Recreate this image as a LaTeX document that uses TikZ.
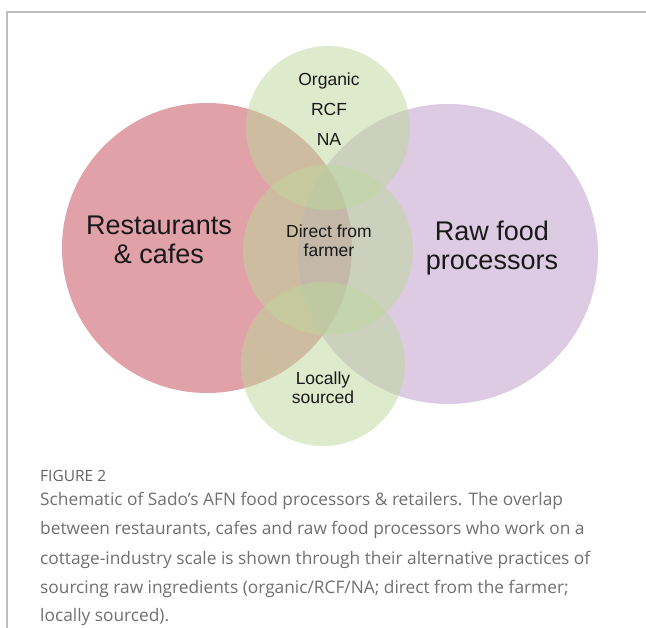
\documentclass[tikz,border=0pt]{standalone}
\usepackage{fontspec}
\setmainfont{Liberation Sans}
\newfontfamily\capfont{Open Sans}
\definecolor{redc}{RGB}{225,161,169}
\definecolor{purc}{RGB}{187,153,201}
\definecolor{grnc}{RGB}{189,215,155}
\definecolor{framec}{RGB}{190,190,190}
\definecolor{labelc}{RGB}{25,25,25}
\definecolor{capc}{RGB}{112,112,112}
\definecolor{figc}{RGB}{100,100,100}
\begin{document}
\begin{tikzpicture}[x=1pt,y=-1pt,
  venn/.style={circle, inner sep=0pt, minimum size=#1, draw=none},
  big/.style={align=center, text=labelc, font=\fontsize{27}{29}\selectfont},
  small/.style={align=center, text=labelc, font=\fontsize{17.5}{#1}\selectfont},
  capline/.style={anchor=base west, inner sep=0pt, text=capc, font=\capfont\fontsize{17.3}{29}\selectfont},
]
\useasboundingbox (0,0) rectangle (646,628);
\fill[white] (0,0) rectangle (646,628);
\draw[framec, line width=1.8pt] (7,628) -- (7,12) -- (646,12);

% circles
\node[venn=290pt, fill=redc] (rest) at (207,248) {};
\node[venn=300pt, fill=purc, fill opacity=0.5] (raw) at (448,254) {};
\node[venn=164pt, fill=grnc, fill opacity=0.5] (gtop) at (328,128) {};
\node[venn=170pt, fill=grnc, fill opacity=0.5] (gmid) at (328,250) {};
\node[venn=164pt, fill=grnc, fill opacity=0.5] (gbot) at (323,364) {};

% labels
\node[big] (lrest) at (159,240) {Restaurants\\\& cafes};
\node[big] (lraw) at (492,248) {Raw food\\processors};
\node[small=30] (ltop) at (329,109) {Organic\\RCF\\NA};
\node[small=19] (lmid) at (329,241) {Direct from\\farmer};
\node[small=19] (lbot) at (323,388) {Locally\\sourced};

% caption
\node[anchor=base west, inner sep=0pt, text=figc, font=\capfont\fontsize{15.5}{17}\selectfont] (fig) at (40,482) {FIGURE 2};
\node[capline] (c1) at (40,506) {Schematic of Sado’s AFN food processors \& retailers. The overlap};
\node[capline] (c2) at (40,535) {between restaurants, cafes and raw food processors who work on a};
\node[capline] (c3) at (40,564) {cottage-industry scale is shown through their alternative practices of};
\node[capline] (c4) at (40,593) {sourcing raw ingredients (organic/RCF/NA; direct from the farmer;};
\node[capline] (c5) at (40,621) {locally sourced).};
\end{tikzpicture}
\end{document}
